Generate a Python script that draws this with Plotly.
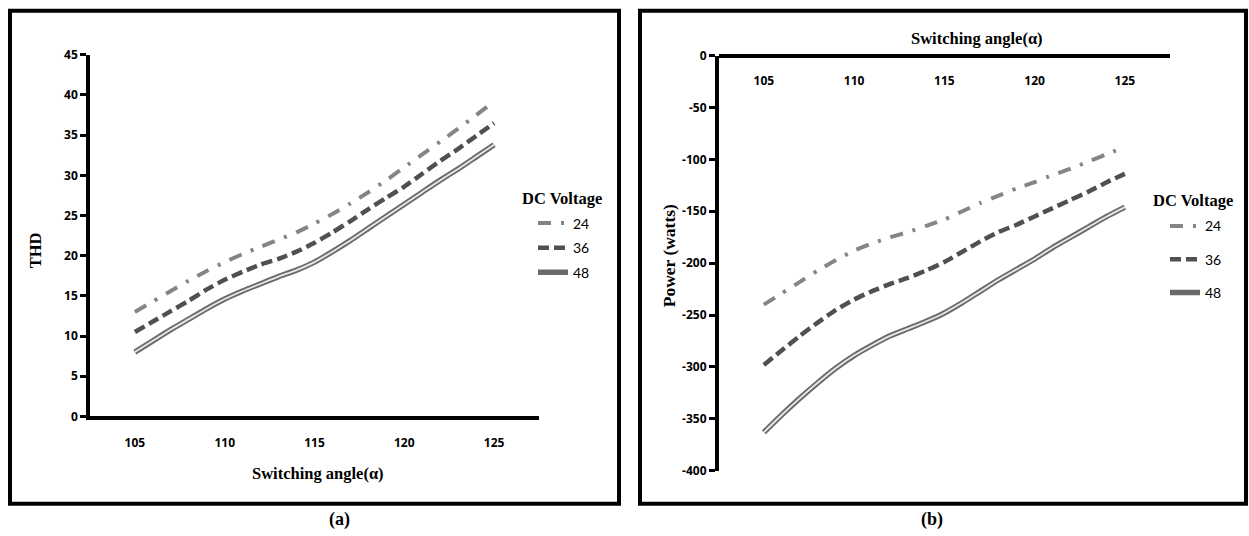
import plotly.graph_objects as go

# ---------------- data ----------------
angles = list(range(105, 126))
x_ticks = [105, 110, 115, 120, 125]
thd_ticks = [0, 5, 10, 15, 20, 25, 30, 35, 40, 45]
power_ticks = [0, -50, -100, -150, -200, -250, -300, -350, -400]

thd_24 = [13.0, 14.3, 15.6, 16.9, 18.1, 19.2, 20.2, 21.1, 22.0, 22.9, 24.0,
          25.2, 26.5, 27.9, 29.4, 31.0, 32.6, 34.2, 35.8, 37.5, 39.2]
thd_36 = [10.5, 11.8, 13.1, 14.4, 15.8, 17.0, 18.0, 18.9, 19.6, 20.5, 21.6,
          22.9, 24.3, 25.8, 27.2, 28.6, 30.2, 31.8, 33.3, 34.9, 36.5]
thd_48 = [8.0, 9.4, 10.8, 12.1, 13.4, 14.6, 15.6, 16.5, 17.4, 18.2, 19.2,
          20.5, 21.9, 23.4, 24.9, 26.4, 27.9, 29.4, 30.8, 32.3, 33.8]

pow_24 = [-240, -229, -218, -207, -197, -188, -181, -175, -170, -164, -158,
          -150, -142, -135, -128, -122, -115, -109, -102, -95, -88]
pow_36 = [-298, -284, -270, -257, -245, -235, -227, -220, -214, -207, -199,
          -189, -179, -170, -163, -155, -147, -139, -131, -122, -114]
pow_48 = [-363, -346, -330, -315, -301, -289, -279, -270, -263, -256, -248,
          -238, -227, -216, -206, -196, -185, -175, -165, -155, -146]

series_names = ["24", "36", "48"]

W, H = 1249, 536


def px(x):
    return x / W


def fy(f):
    # figure pixel (from top) -> paper fraction
    return 1 - f / H


def py(y):
    # target picture pixel (from top) -> paper fraction, compensating the
    # small vertical inset seen in the photographed page
    return fy((y - 9.3) / 0.966)


C24 = "#858585"
C36 = "#505050"
C48 = "#6a6a6a"
C48_CORE = "#e8e8e8"

fig = go.Figure()


def add_series(xa, ya, legend, v24, v36, v48):
    fig.add_trace(go.Scatter(
        x=angles, y=v24, name=series_names[0], mode="lines", xaxis=xa, yaxis=ya,
        legend=legend, legendgroup=legend + "a",
        line=dict(color=C24, width=4, dash="13px,10px,3px,10px", shape="spline", smoothing=0.5)))
    fig.add_trace(go.Scatter(
        x=angles, y=v36, name=series_names[1], mode="lines", xaxis=xa, yaxis=ya,
        legend=legend, legendgroup=legend + "b",
        line=dict(color=C36, width=4.5, dash="11px,5px", shape="spline", smoothing=0.5)))
    fig.add_trace(go.Scatter(
        x=angles, y=v48, name=series_names[2], mode="lines", xaxis=xa, yaxis=ya,
        legend=legend, legendgroup=legend + "c",
        line=dict(color=C48, width=5.5, shape="spline", smoothing=0.5)))
    fig.add_trace(go.Scatter(
        x=angles, y=v48, name=series_names[2], mode="lines", xaxis=xa, yaxis=ya,
        legend=legend, legendgroup=legend + "c", showlegend=False,
        line=dict(color=C48_CORE, width=1.8, shape="spline", smoothing=0.5)))


add_series("x", "y", "legend", thd_24, thd_36, thd_48)
add_series("x2", "y2", "legend2", pow_24, pow_36, pow_48)

tick_font = dict(family="Open Sans", size=12, color="black", weight=700)
axis_common = dict(showgrid=False, zeroline=False, showline=True, linecolor="black",
                   linewidth=3.5, tickfont=tick_font, fixedrange=True)

fig.update_layout(
    width=W, height=H,
    margin=dict(l=0, r=0, t=0, b=0),
    paper_bgcolor="white", plot_bgcolor="white",
    showlegend=True,
    xaxis=dict(domain=[px(90), px(539)], range=[102.5, 127.5], tickvals=x_ticks,
               ticktext=[str(v) for v in x_ticks],
               ticks="outside", ticklen=12, tickcolor="rgba(0,0,0,0)", anchor="y",
               **axis_common),
    yaxis=dict(domain=[py(415.7), py(55)], range=[0, 45], tickvals=thd_ticks,
               ticktext=[str(v) for v in thd_ticks],
               ticks="outside", ticklen=6, tickwidth=3, tickcolor="black", anchor="x",
               **axis_common),
    xaxis2=dict(domain=[px(718.7), px(1170)], range=[102.5, 127.5], tickvals=x_ticks,
                ticktext=[str(v) for v in x_ticks],
                anchor="free", position=py(55.7), side="bottom",
                ticks="outside", ticklen=13, tickcolor="rgba(0,0,0,0)",
                **axis_common),
    yaxis2=dict(domain=[py(470), py(55.7)], range=[-400, 0], tickvals=power_ticks,
                ticktext=[str(v) for v in power_ticks],
                ticks="outside", ticklen=6, tickwidth=3, tickcolor="black", anchor="x2",
                **axis_common),
    legend=dict(x=px(533), y=fy(205), xanchor="left", yanchor="top",
                font=dict(family="Lato", size=14, color="black"),
                bgcolor="rgba(0,0,0,0)", tracegroupgap=3.4, itemwidth=30),
    legend2=dict(x=px(1165), y=fy(208), xanchor="left", yanchor="top",
                 font=dict(family="Lato", size=14, color="black"),
                 bgcolor="rgba(0,0,0,0)", tracegroupgap=12, itemwidth=30),
)

title_font = dict(family="Liberation Serif", size=16.5, color="black", weight="bold")
ytitle_font = dict(family="Liberation Serif", size=17.5, color="black", weight="bold")
cap_font = dict(family="Liberation Serif", size=18, color="black", weight="bold")

annotations = [
    dict(text="Switching angle(α)", x=px(318), y=py(473), font=title_font),
    dict(text="THD", x=px(35), y=py(250), textangle=-90, font=title_font),
    dict(text="DC Voltage", x=px(562), y=py(198), font=title_font),
    dict(text="Switching angle(α)", x=px(977), y=py(39), font=title_font),
    dict(text="Power (watts)", x=px(669), y=py(256), textangle=-90, font=ytitle_font),
    dict(text="DC Voltage", x=px(1193), y=py(200), font=title_font),
    dict(text="(a)", x=px(339), y=fy(527.5), font=cap_font),
    dict(text="(b)", x=px(932), y=fy(527.5), font=cap_font),
]
for a in annotations:
    a.update(xref="paper", yref="paper", showarrow=False, xanchor="center", yanchor="middle")
fig.update_layout(annotations=annotations)

fig.update_layout(shapes=[
    dict(type="rect", xref="paper", yref="paper", x0=px(10), x1=px(619), y0=py(503), y1=py(11),
         line=dict(color="black", width=4)),
    dict(type="rect", xref="paper", yref="paper", x0=px(640), x1=px(1246), y0=py(503), y1=py(11),
         line=dict(color="black", width=4)),
])

fig.write_html(
    "out.html",
    config={"displayModeBar": False},
    post_script="document.body.style.margin='0px';document.body.style.overflow='hidden';",
)
